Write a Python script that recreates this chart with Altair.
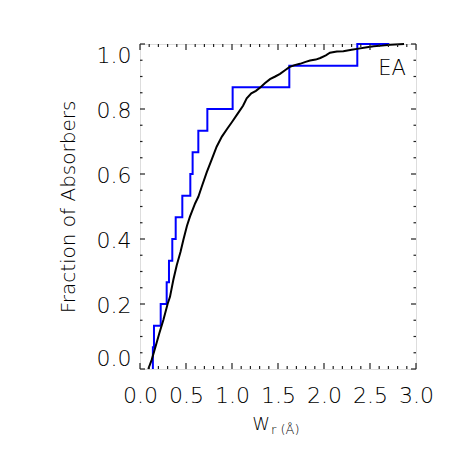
import altair as alt
import pandas as pd

# ---- data ----
# blue sample: W_r positions of the cumulative steps and the fraction reached after each step
blue_w = [0.14, 0.152, 0.225, 0.290, 0.315, 0.351, 0.388, 0.46, 0.547, 0.572,
          0.634, 0.732, 1.007, 1.623, 2.362]
blue_f = [0.067, 0.133, 0.200, 0.267, 0.333, 0.400, 0.467, 0.533, 0.600, 0.667,
          0.733, 0.800, 0.867, 0.933, 1.000]
blue_end_w = 2.71

# black sample: cumulative distribution
black_w = [0.09, 0.127, 0.17, 0.21, 0.254, 0.30, 0.326, 0.362, 0.40, 0.44,
           0.471, 0.51, 0.543, 0.60, 0.634, 0.67, 0.725, 0.78, 0.833, 0.89,
           0.95, 1.0, 1.06, 1.12, 1.16, 1.21, 1.26, 1.31, 1.36, 1.413,
           1.47, 1.522, 1.58, 1.623, 1.68, 1.739, 1.80, 1.848, 1.91, 1.96,
           2.02, 2.065, 2.14, 2.21, 2.30, 2.36, 2.45, 2.54, 2.63, 2.72, 2.87]
black_f = [0.0, 0.028, 0.07, 0.11, 0.151, 0.20, 0.222, 0.274, 0.32, 0.36,
           0.397, 0.44, 0.469, 0.51, 0.53, 0.56, 0.605, 0.645, 0.684, 0.715,
           0.74, 0.76, 0.785, 0.81, 0.833, 0.848, 0.856, 0.867, 0.88, 0.892,
           0.90, 0.908, 0.92, 0.929, 0.935, 0.939, 0.945, 0.949, 0.952, 0.957,
           0.965, 0.973, 0.977, 0.978, 0.982, 0.985, 0.989, 0.993, 0.995, 0.998, 1.0]

x_major = [0.0, 0.5, 1.0, 1.5, 2.0, 2.5, 3.0]
x_minor = [0.1, 0.2, 0.3, 0.4, 0.6, 0.7, 0.8, 0.9, 1.1, 1.2, 1.3, 1.4,
           1.6, 1.7, 1.8, 1.9, 2.1, 2.2, 2.3, 2.4, 2.6, 2.7, 2.8, 2.9]
y_major = [0.0, 0.2, 0.4, 0.6, 0.8, 1.0]
y_minor = [0.05, 0.1, 0.15, 0.25, 0.3, 0.35, 0.45, 0.5, 0.55, 0.65, 0.7, 0.75,
           0.85, 0.9, 0.95]

panel_label = "EA"
x_title_main = "W"
x_title_sub = "r (Å)"
y_title = "Fraction of Absorbers"

# ---- layout ----
W, H = 276, 325
FONT = "DejaVu Sans"
WT = 200

blue_df = pd.DataFrame({
    "w": [blue_w[0]] + blue_w + [blue_end_w],
    "f": [0.0] + blue_f + [blue_f[-1]],
})
blue_df["i"] = range(len(blue_df))
black_df = pd.DataFrame({"w": black_w, "f": black_f})
black_df["i"] = range(len(black_df))

xs = alt.Scale(domain=[0, 3], nice=False, zero=False)
ys = alt.Scale(domain=[0, 1], nice=False, zero=False)

xaxis = alt.Axis(values=x_major, format=".1f", ticks=False, domain=False, grid=False,
                 labelFont=FONT, labelFontSize=22, labelFontWeight=WT, labelColor="black",
                 labelPadding=16, labelFlush=False, title=None)
yaxis = alt.Axis(values=y_major, format=".1f", ticks=False, domain=False, grid=False,
                 labelFont=FONT, labelFontSize=22, labelFontWeight=WT, labelColor="black",
                 labelPadding=9, labelFlush=True, labelOffset=1,
                 title=y_title, titleFont=FONT, titleFontSize=20,
                 titleFontWeight=WT, titleColor="black", titlePadding=18)


def X(field):
    return alt.X(field, type="quantitative", scale=xs, axis=xaxis)


def Y(field):
    return alt.Y(field, type="quantitative", scale=ys, axis=yaxis)


blue = alt.Chart(blue_df).mark_line(color="#0000ff", strokeWidth=2,
                                    interpolate="step-after").encode(
    x=X("w"), y=Y("f"), order="i:Q")
black = alt.Chart(black_df).mark_line(color="black", strokeWidth=2).encode(
    x=X("w"), y=Y("f"), order="i:Q")

xmaj = pd.DataFrame({"w": x_major})
xmin = pd.DataFrame({"w": x_minor})
ymaj = pd.DataFrame({"f": y_major})
ymin = pd.DataFrame({"f": y_minor})

tick_style = dict(color="#222222", strokeWidth=1.2)
ticks = [
    alt.Chart(xmaj).mark_rule(**tick_style).encode(x=X("w"), y=alt.value(H), y2=alt.value(H - 6)),
    alt.Chart(xmaj).mark_rule(**tick_style).encode(x=X("w"), y=alt.value(0), y2=alt.value(6)),
    alt.Chart(xmin).mark_rule(**tick_style).encode(x=X("w"), y=alt.value(H), y2=alt.value(H - 3)),
    alt.Chart(xmin).mark_rule(**tick_style).encode(x=X("w"), y=alt.value(0), y2=alt.value(3)),
    alt.Chart(ymaj).mark_rule(**tick_style).encode(y=Y("f"), x=alt.value(0), x2=alt.value(5)),
    alt.Chart(ymaj).mark_rule(**tick_style).encode(y=Y("f"), x=alt.value(W), x2=alt.value(W - 5)),
    alt.Chart(ymin).mark_rule(**tick_style).encode(y=Y("f"), x=alt.value(0), x2=alt.value(2.5)),
    alt.Chart(ymin).mark_rule(**tick_style).encode(y=Y("f"), x=alt.value(W), x2=alt.value(W - 2.5)),
]

ea = alt.Chart(pd.DataFrame({"t": [panel_label]})).mark_text(
    font=FONT, fontSize=21, fontWeight=WT, color="black", align="center", baseline="middle"
).encode(x=alt.value(252), y=alt.value(25), text="t:N")

t_main = alt.Chart(pd.DataFrame({"t": [x_title_main]})).mark_text(
    font=FONT, fontSize=18, fontWeight=WT, color="black", align="right", baseline="alphabetic"
).encode(x=alt.value(130), y=alt.value(386), text="t:N")
t_sub = alt.Chart(pd.DataFrame({"t": [x_title_sub]})).mark_text(
    font=FONT, fontSize=13, fontWeight=WT, color="black", align="left", baseline="alphabetic"
).encode(x=alt.value(131), y=alt.value(390), text="t:N")

chart = alt.layer(blue, black, *ticks, ea, t_main, t_sub).properties(
    width=W, height=H,
    autosize=alt.AutoSizeParams(type="none"),
    padding={"left": 132, "top": 36, "right": 34, "bottom": 81},
).configure_view(stroke="#222222", strokeWidth=1.5).configure(background="white")

chart.save("out.html", embed_options={"renderer": "svg", "actions": False})
